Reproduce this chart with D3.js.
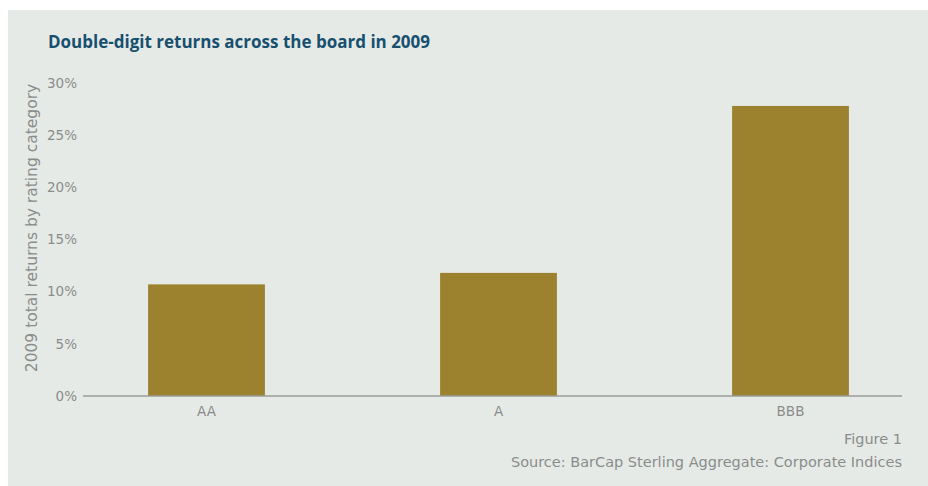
<!DOCTYPE html>
<html>
<head>
<meta charset="utf-8">
<script src="https://cdn.jsdelivr.net/npm/d3@7"></script>
<style>
  body { margin: 0; background: #fff; }
  svg text { font-family: "DejaVu Sans", sans-serif; }
</style>
</head>
<body>
<div id="chart"></div>
<script>
// data
const categories = ['AA', 'A', 'BBB']
const returns2009 = [10.7, 11.8, 27.8]
const yTicks = [0, 5, 10, 15, 20, 25, 30]

const width = 928, height = 486

const svg = d3.select('#chart').append('svg')
  .attr('width', width)
  .attr('height', height)

// grey panel
svg.append('rect')
  .attr('x', 8).attr('y', 10)
  .attr('width', width - 8).attr('height', height - 10)
  .attr('fill', '#e6eae7')

svg.append('text')
  .attr('x', 48).attr('y', 48)
  .attr('fill', '#17506f')
  .attr('font-size', 17)
  .attr('font-weight', 'bold')
  .style('font-family', '"Open Sans", sans-serif')
  .text('Double-digit returns across the board in 2009')

var x = d3.scaleBand()
  .domain(categories)
  .range([60.5, 936.5])
  .paddingInner(0.6)
  .paddingOuter(0.3)

var y = d3.scaleLinear()
  .domain([0, 30])
  .range([396, 83])

// y tick labels (no axis line)
var yAxis = d3.axisLeft(y)
  .tickValues(yTicks)
  .tickSize(0)
  .tickPadding(0)
  .tickFormat(d => d + '%')

var gy = svg.append('g')
  .attr('transform', 'translate(77,0)')
  .call(yAxis)
gy.select('.domain').remove()
gy.selectAll('text')
  .attr('fill', '#8a8c8b')
  .attr('font-size', 13.5)

svg.append('text')
  .attr('transform', 'translate(37,228) rotate(-90)')
  .attr('text-anchor', 'middle')
  .attr('fill', '#8a8c8b')
  .attr('font-size', 15.5)
  .text('2009 total returns by rating category')

svg.append('g')
  .selectAll('rect')
  .data(categories)
  .join('rect')
    .attr('x', d => x(d))
    .attr('width', x.bandwidth())
    .attr('y', (d, i) => y(returns2009[i]))
    .attr('height', (d, i) => y(0) - y(returns2009[i]))
    .attr('fill', '#9c812f')

// baseline
svg.append('line')
  .attr('x1', 83).attr('x2', 902)
  .attr('y1', y(0)).attr('y2', y(0))
  .attr('stroke', '#9a9c9b')
  .attr('stroke-width', 1.5)

var xAxis = d3.axisBottom(x).tickSize(0).tickPadding(10)
var gx = svg.append('g')
  .attr('transform', `translate(0,${y(0)})`)
  .call(xAxis)
gx.select('.domain').remove()
gx.selectAll('text')
  .attr('fill', '#8a8c8b')
  .attr('font-size', 13.5)

svg.append('text')
  .attr('x', 902).attr('y', 444)
  .attr('text-anchor', 'end')
  .attr('fill', '#8a8c8b')
  .attr('font-size', 14.5)
  .text('Figure 1')

svg.append('text')
  .attr('x', 902).attr('y', 467)
  .attr('text-anchor', 'end')
  .attr('fill', '#8a8c8b')
  .attr('font-size', 14.5)
  .text('Source: BarCap Sterling Aggregate: Corporate Indices')
</script>
</body>
</html>
